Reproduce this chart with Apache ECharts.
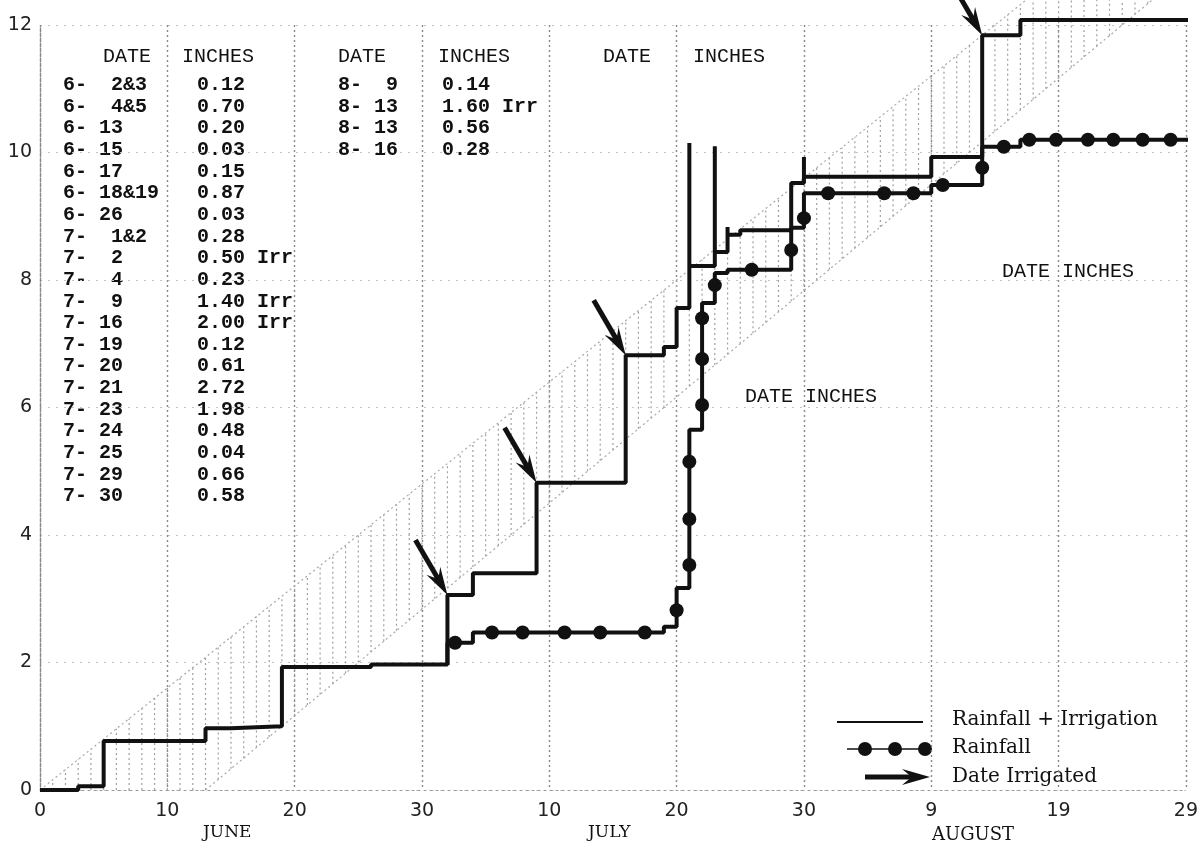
<!DOCTYPE html>
<html>
<head>
<meta charset="utf-8">
<script src="https://cdn.jsdelivr.net/npm/echarts@6/dist/echarts.min.js"></script>
<style>
html, body { margin: 0; padding: 0; background: #fff; }
#chart { width: 1201px; height: 846px; }
</style>
</head>
<body>
<div id="chart"></div>
<script>
// day 0 = May 31, axis runs to Aug 29 (day 90)
var xTickLabels = ['0', '10', '20', '30', '10', '20', '30', '9', '19', '29'];
var monthNames = ['JUNE', 'JULY', 'AUGUST'];

// cumulative inches, rainfall + irrigation
var totalSteps = [[0, 0], [3, 0.06], [5, 0.77], [13, 0.97], [15, 1.0], [19, 1.93], [26, 1.97],
    [32, 3.06], [34, 3.40], [39, 4.82], [46, 6.82], [49, 6.95], [50, 7.56],
    [51, 10.15], [51, 8.22], [53, 10.1], [53, 8.44], [54, 8.83], [54, 8.71], [55, 8.78],
    [59, 9.52], [60, 9.93], [60, 9.62], [70, 9.93], [74, 11.84], [77, 12.08], [90.3, 12.08]];

// cumulative inches, rainfall only (splits off on 7-2)
var rainSteps = [[32, 1.96], [32, 2.31], [34, 2.47], [49, 2.56], [50, 3.17], [51, 5.65], [52, 7.64],
    [53, 8.11], [54, 8.16], [59, 8.82], [60, 9.36], [70, 9.49], [74, 10.09], [77, 10.2], [90.3, 10.2]];

var rainDots = [[32.6, 2.31], [35.5, 2.47], [37.9, 2.47], [41.2, 2.47], [44, 2.47], [47.5, 2.47],
    [50, 2.82], [51, 3.53], [51, 4.25], [51, 5.15], [52, 6.04], [52, 6.76], [52, 7.40], [53, 7.92],
    [55.9, 8.16], [59, 8.47], [60, 8.97], [61.9, 9.36], [66.3, 9.36], [68.6, 9.36], [70.9, 9.49],
    [74, 9.76], [75.7, 10.09], [77.7, 10.2], [79.8, 10.2], [82.3, 10.2], [84.3, 10.2], [86.6, 10.2], [88.8, 10.2]];

// irrigation dates (arrow tips)
var irrigated = [[32, 3.06], [39, 4.82], [46, 6.82], [74, 11.84]];

// shaded band edges
var bandUpper = [[0, 0], [77.5, 12.4]];
var bandLower = [[13, 0], [88, 12.5]];

// typed table
var tableDates1 = ['6-  2&3', '6-  4&5', '6- 13', '6- 15', '6- 17', '6- 18&19', '6- 26', '7-  1&2', '7-  2', '7-  4',
    '7-  9', '7- 16', '7- 19', '7- 20', '7- 21', '7- 23', '7- 24', '7- 25', '7- 29', '7- 30'];
var tableInches1 = ['0.12', '0.70', '0.20', '0.03', '0.15', '0.87', '0.03', '0.28', '0.50 Irr', '0.23',
    '1.40 Irr', '2.00 Irr', '0.12', '0.61', '2.72', '1.98', '0.48', '0.04', '0.66', '0.58'];
var tableDates2 = ['8-  9', '8- 13', '8- 13', '8- 16'];
var tableInches2 = ['0.14', '1.60 Irr', '0.56', '0.28'];

var chart = echarts.init(document.getElementById('chart'));

function lerp(pts, d) {
    var a = pts[0], b = pts[1];
    return a[1] + (b[1] - a[1]) * (d - a[0]) / (b[0] - a[0]);
}

function arrowShape(tail, tip) {
    var dx = tip[0] - tail[0], dy = tip[1] - tail[1];
    var len = Math.sqrt(dx * dx + dy * dy);
    var ux = dx / len, uy = dy / len, nx = -uy, ny = ux;
    var L = 28, W = 8;
    var bx = tip[0] - ux * L, by = tip[1] - uy * L;
    return {
        type: 'group',
        children: [
            { type: 'line', shape: { x1: tail[0], y1: tail[1], x2: tip[0] - ux * L * 0.5, y2: tip[1] - uy * L * 0.5 },
              style: { stroke: '#111', lineWidth: 5 } },
            { type: 'polygon', shape: { points: [tip, [bx + nx * W, by + ny * W], [tip[0] - ux * L * 0.65, tip[1] - uy * L * 0.65], [bx - nx * W, by - ny * W]] },
              style: { fill: '#111' } }
        ]
    };
}

function bandItem(params, api) {
    var kids = [];
    for (var d = 0; d <= 91; d++) {
        var lo = Math.max(0, lerp(bandLower, d));
        var hi = lerp(bandUpper, d);
        if (hi <= lo) continue;
        var p1 = api.coord([d, lo]), p2 = api.coord([d, hi]);
        kids.push({ type: 'line', shape: { x1: p1[0], y1: p1[1], x2: p2[0], y2: p2[1] },
            style: { stroke: '#a0a0a0', lineWidth: 1.2, lineDash: [2, 3] } });
    }
    [bandUpper, bandLower].forEach(function (pts) {
        var a = api.coord(pts[0]), b = api.coord(pts[1]);
        kids.push({ type: 'line', shape: { x1: a[0], y1: a[1], x2: b[0], y2: b[1] },
            style: { stroke: '#a8a8a8', lineWidth: 1.2, lineDash: [2, 3] } });
    });
    return { type: 'group', children: kids };
}

function arrowItem(params, api) {
    var tip = api.coord([api.value(0), api.value(1)]);
    return arrowShape([tip[0] - 32, tip[1] - 55], tip);
}

var monoFont = '"Liberation Mono", "DejaVu Sans Mono", monospace';
var serifFont = '"DejaVu Serif", serif';
var graphics = [];

function addText(x, y, text, font, size, weight) {
    graphics.push({ type: 'text', x: x, y: y,
        style: { text: text, font: (weight || 'normal') + ' ' + size + 'px ' + font, fill: '#111', verticalAlign: 'middle' } });
}

// table headers
addText(103, 57, 'DATE', monoFont, 20);
addText(182, 57, 'INCHES', monoFont, 20);
addText(338, 57, 'DATE', monoFont, 20);
addText(438, 57, 'INCHES', monoFont, 20);
addText(603, 57, 'DATE', monoFont, 20);
addText(693, 57, 'INCHES', monoFont, 20);
addText(1002, 272, 'DATE INCHES', monoFont, 20);
addText(745, 397, 'DATE INCHES', monoFont, 20);

tableDates1.forEach(function (t, i) {
    addText(63, 85 + i * 21.65, t, monoFont, 20, 'bold');
    addText(197, 85 + i * 21.65, tableInches1[i], monoFont, 20, 'bold');
});
tableDates2.forEach(function (t, i) {
    addText(338, 85 + i * 21.65, t, monoFont, 20, 'bold');
    addText(442, 85 + i * 21.65, tableInches2[i], monoFont, 20, 'bold');
});

// month names under the axis
addText(203, 833, monthNames[0], serifFont, 17);
addText(588, 833, monthNames[1], serifFont, 17);
addText(932, 835, monthNames[2], serifFont, 18);

// legend
graphics.push({ type: 'line', shape: { x1: 837, y1: 722, x2: 923, y2: 722 }, style: { stroke: '#111', lineWidth: 2 } });
graphics.push({ type: 'line', shape: { x1: 847, y1: 749, x2: 925, y2: 749 }, style: { stroke: '#111', lineWidth: 1.5 } });
[865, 895, 925].forEach(function (cx) {
    graphics.push({ type: 'circle', shape: { cx: cx, cy: 749, r: 7 }, style: { fill: '#111' } });
});
graphics.push(arrowShape([865, 777], [930, 777]));
addText(952, 720, 'Rainfall + Irrigation', serifFont, 20);
addText(952, 748, 'Rainfall', serifFont, 20);
addText(952, 777, 'Date Irrigated', serifFont, 20);

var option = {
    animation: false,
    backgroundColor: '#fff',
    grid: { left: 40, right: 9, top: 25, bottom: 56 },
    xAxis: {
        type: 'value',
        min: 0,
        max: 90,
        interval: 10,
        axisLine: { lineStyle: { color: '#999', type: [2, 4] } },
        axisTick: { show: false },
        splitLine: { lineStyle: { color: '#888', type: [2, 3], width: 1.4 } },
        axisLabel: {
            margin: 12,
            color: '#222',
            fontFamily: '"DejaVu Sans", sans-serif',
            fontSize: 19,
            formatter: function (v) { return xTickLabels[Math.round(v / 10)]; }
        }
    },
    yAxis: {
        type: 'value',
        min: 0,
        max: 12,
        interval: 2,
        axisLine: { show: true, lineStyle: { color: '#888', type: [2, 3], width: 1.4 } },
        axisTick: { show: false },
        splitLine: { lineStyle: { color: '#c4c4c4', type: [2, 6] } },
        axisLabel: {
            margin: 8,
            color: '#222',
            fontFamily: '"DejaVu Sans", sans-serif',
            fontSize: 19,
            padding: [0, 0, 14, 0]
        }
    },
    series: [
        {
            name: 'band',
            type: 'custom',
            renderItem: bandItem,
            data: [[0, 0]],
            silent: true,
            z: 1
        },
        {
            name: 'Rainfall + Irrigation',
            type: 'line',
            step: 'end',
            data: totalSteps,
            showSymbol: false,
            clip: false,
            lineStyle: { color: '#111', width: 4 },
            z: 3
        },
        {
            name: 'Rainfall',
            type: 'line',
            step: 'end',
            data: rainSteps,
            showSymbol: false,
            clip: false,
            lineStyle: { color: '#111', width: 4 },
            z: 3
        },
        {
            name: 'Rainfall dots',
            type: 'scatter',
            data: rainDots,
            symbolSize: 14,
            itemStyle: { color: '#111', opacity: 1 },
            z: 4
        },
        {
            name: 'Date Irrigated',
            type: 'custom',
            renderItem: arrowItem,
            data: irrigated,
            clip: false,
            z: 5
        }
    ],
    graphic: graphics
};

chart.setOption(option);
</script>
</body>
</html>
